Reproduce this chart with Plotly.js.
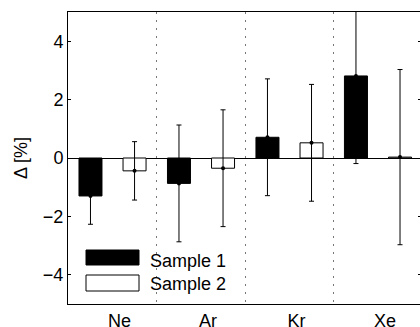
<!DOCTYPE html>
<html>
<head>
<meta charset="utf-8">
<script src="https://cdn.plot.ly/plotly-3.0.1.min.js"></script>
<style>
  html, body { margin: 0; padding: 0; overflow: hidden; background: #fff; width: 420px; height: 327px; }
  #chart { width: 422px; height: 327px; }
</style>
</head>
<body>
<div id="chart"></div>
<script>
// ---- data ----
const categories = ['Ne', 'Ar', 'Kr', 'Xe'];
const seriesNames = ['Sample 1', 'Sample 2'];
const sample1 = [-1.30, -0.87, 0.71, 2.81];
const sample1Err = [0.97, 2.0, 2.0, 3.0];
const sample2 = [-0.44, -0.35, 0.52, 0.03];
const sample2Err = [1.0, 2.0, 2.0, 3.0];
const yTickVals = [-4, -2, 0, 2, 4];
const yLabel = 'Δ [%]';

// ---- layout geometry ----
const W = 422, H = 327;
const M = { l: 68, r: 1, t: 12, b: 23 };
const plotW = W - M.l - M.r, plotH = H - M.t - M.b;
const xRange = [-0.503, 3.486];
const barW = 0.26, barShift = 0.249;
const font = 'Liberation Sans, Arial, Helvetica, sans-serif';

function px(x) { return (x - M.l) / plotW; }
function py(y) { return (M.t + plotH - y) / plotH; }

const errStyle = { type: 'data', visible: true, color: '#000', thickness: 1, width: 2.5 };

const traces = [
  {
    type: 'bar', name: seriesNames[0], x: categories, y: sample1,
    width: barW, offset: -barShift - barW / 2,
    marker: { color: '#000', line: { color: '#000', width: 1 } },
    error_y: Object.assign({ array: sample1Err }, errStyle),
    showlegend: false
  },
  {
    type: 'bar', name: seriesNames[1], x: categories, y: sample2,
    width: barW, offset: barShift - barW / 2,
    marker: { color: '#fff', line: { color: '#000', width: 1 } },
    error_y: Object.assign({ array: sample2Err }, errStyle),
    showlegend: false
  },
  {
    type: 'scatter', mode: 'markers', xaxis: 'x2', hoverinfo: 'skip',
    x: categories.map((c, i) => i - barShift), y: sample1,
    marker: { color: '#000', size: 4 }, showlegend: false
  },
  {
    type: 'scatter', mode: 'markers', xaxis: 'x2', hoverinfo: 'skip',
    x: categories.map((c, i) => i + barShift), y: sample2,
    marker: { color: '#000', size: 4 }, showlegend: false
  }
];

// manual legend (large MATLAB-style swatches)
const legendShapes = [
  { type: 'rect', xref: 'paper', yref: 'paper', x0: px(86), x1: px(139), y0: py(265), y1: py(250),
    fillcolor: '#000', line: { color: '#000', width: 1 } },
  { type: 'rect', xref: 'paper', yref: 'paper', x0: px(86), x1: px(139), y0: py(291), y1: py(275),
    fillcolor: '#fff', line: { color: '#000', width: 1 } }
];
const legendText = [
  { xref: 'paper', yref: 'paper', x: px(148), y: py(261), xanchor: 'left', yanchor: 'middle',
    text: seriesNames[0], showarrow: false, font: { family: font, size: 18, color: '#000' } },
  { xref: 'paper', yref: 'paper', x: px(148), y: py(284), xanchor: 'left', yanchor: 'middle',
    text: seriesNames[1], showarrow: false, font: { family: font, size: 18, color: '#000' } }
];

const layout = {
  width: W, height: H, margin: M,
  paper_bgcolor: '#fff', plot_bgcolor: '#fff',
  font: { family: font, size: 18, color: '#000' },
  barmode: 'group',
  xaxis: {
    type: 'category', range: xRange, tickson: 'boundaries',
    showgrid: true, gridcolor: '#777', gridwidth: 1, griddash: '2px,6px',
    ticks: '', showline: true, linecolor: '#000', linewidth: 1, mirror: true,
    zeroline: false, tickfont: { family: font, size: 18, color: '#000' },
    ticklabelshift: 7, ticklabelstandoff: 0, fixedrange: true
  },
  xaxis2: {
    overlaying: 'x', range: xRange, visible: false, fixedrange: true
  },
  yaxis: {
    range: [-5, 5], tickvals: yTickVals, ticks: 'inside', ticklen: 3, tickcolor: '#000',
    showline: true, linecolor: '#000', linewidth: 1, mirror: 'ticks',
    showgrid: false, zeroline: true, zerolinecolor: '#000', zerolinewidth: 1,
    tickfont: { family: font, size: 18, color: '#000' },
    title: { text: yLabel, font: { family: font, size: 18, color: '#000' }, standoff: 10 },
    fixedrange: true
  },
  shapes: legendShapes,
  annotations: legendText
};

Plotly.newPlot('chart', traces, layout, { staticPlot: true, displayModeBar: false });
</script>
</body>
</html>
